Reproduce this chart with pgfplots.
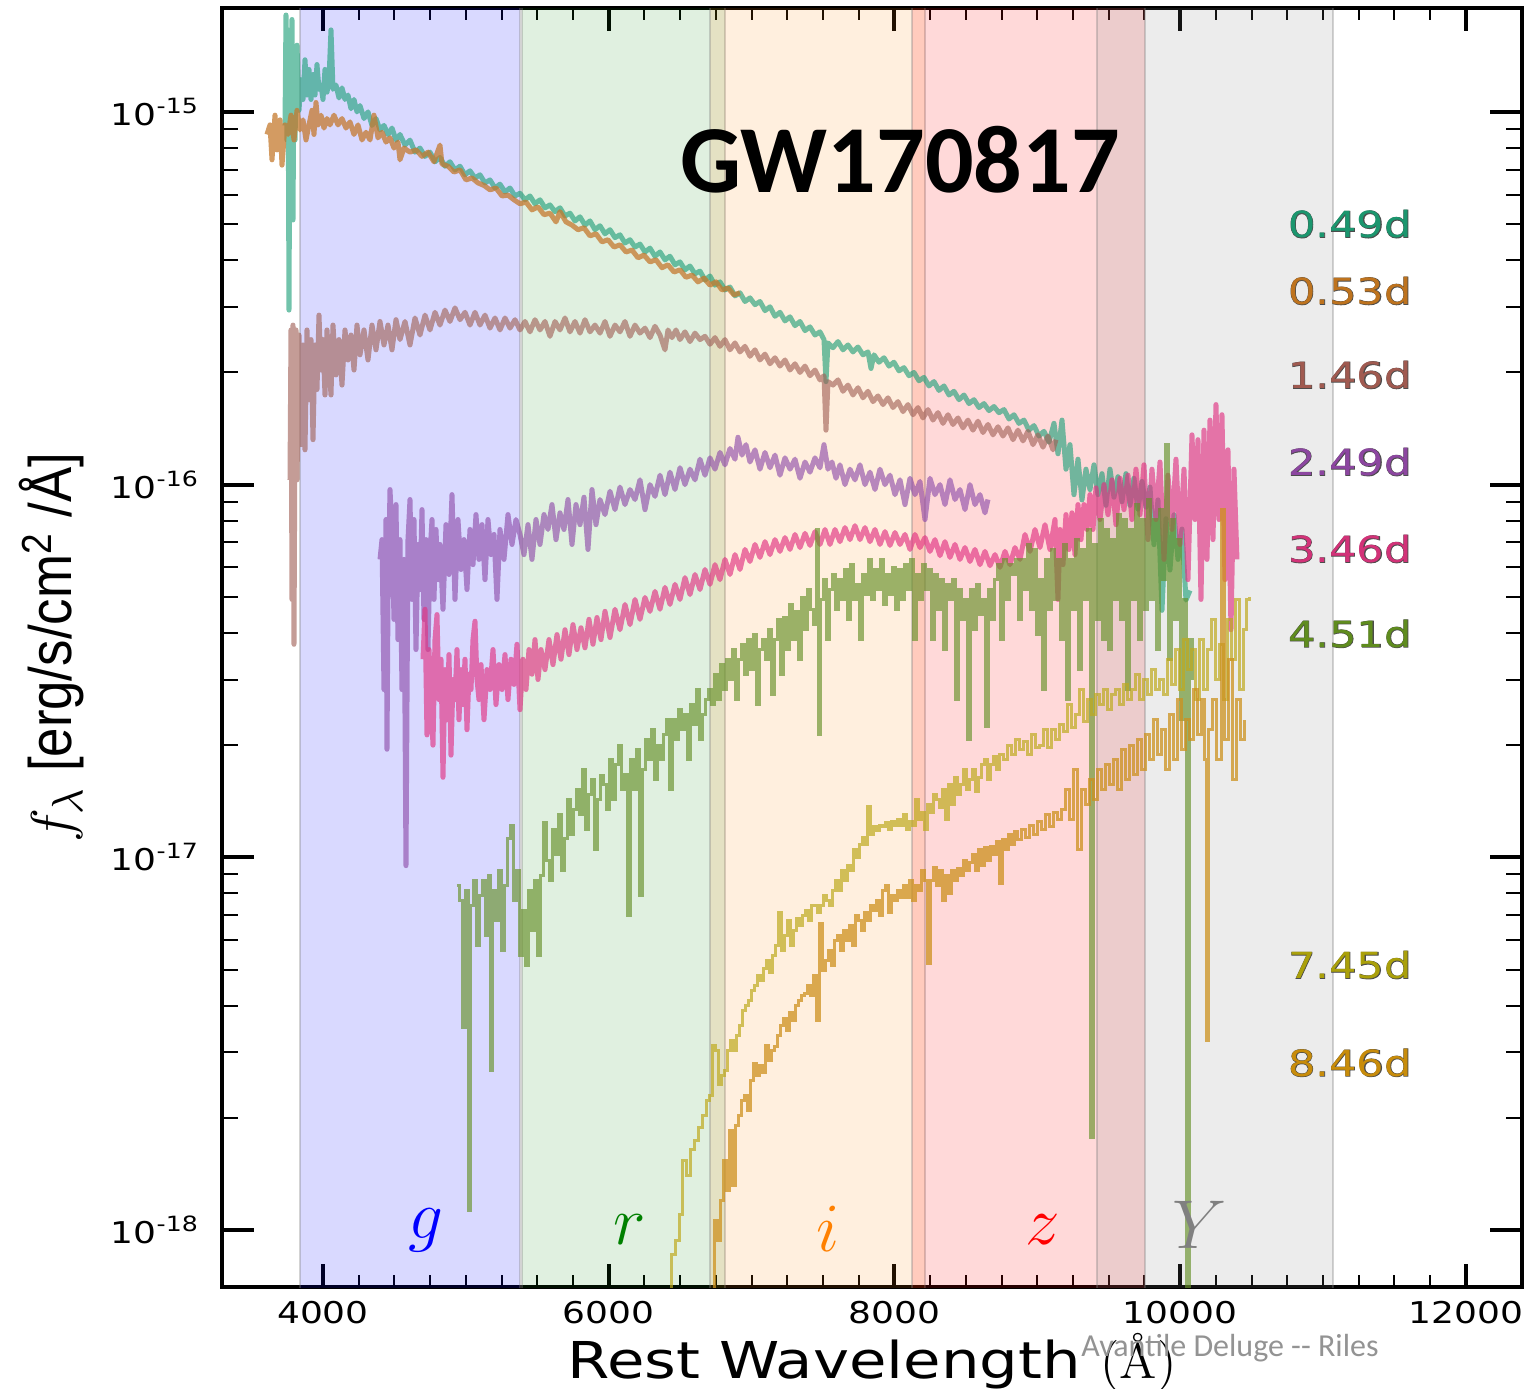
\documentclass[border=0pt]{standalone}
\usepackage{pgfplots}
\pgfplotsset{compat=1.18}
\usepackage{fontspec}
\newfontfamily\widefont[FakeStretch=1.2]{DejaVu Sans}
\newfontfamily\labfontbold[FakeStretch=1.2,FakeBold=2.5]{DejaVu Sans}
\newfontfamily\titlefont{Carlito}
\newfontfamily\ylabfont[FakeStretch=0.88]{Liberation Sans}

% spectra colours
\definecolor{cA}{RGB}{27,158,119}
\definecolor{cB}{RGB}{196,121,46}
\definecolor{cC}{RGB}{160,95,85}
\definecolor{cD}{RGB}{140,72,168}
\definecolor{cE}{RGB}{225,50,130}
\definecolor{cF}{RGB}{102,145,40}
\definecolor{cG}{RGB}{190,170,30}
\definecolor{cH}{RGB}{205,145,30}
% label colours
\definecolor{lA}{RGB}{27,150,110}
\definecolor{lB}{RGB}{190,115,30}
\definecolor{lC}{RGB}{160,90,80}
\definecolor{lD}{RGB}{140,70,160}
\definecolor{lE}{RGB}{210,50,120}
\definecolor{lF}{RGB}{95,140,30}
\definecolor{lG}{RGB}{170,160,10}
\definecolor{lH}{RGB}{200,140,10}

\begin{document}
\begin{tikzpicture}
\path[use as bounding box] (-55.5pt,-25.5pt) rectangle (327pt,321.75pt);
\begin{axis}[
    at={(0,0)}, anchor=south west,
    scale only axis, width=325pt, height=319.75pt,
    xmin=3293, xmax=12393,
    ymode=log, ymin=7.03e-19, ymax=1.90e-15,
    xtick={4000,6000,8000,10000,12000},
    xticklabels={4000,6000,8000,10000,12000},
    scaled x ticks=false,
    minor x tick num=7,
    ytick={1e-18,1e-17,1e-16,1e-15},
    yticklabels={10\textsuperscript{-18},10\textsuperscript{-17},10\textsuperscript{-16},10\textsuperscript{-15}},
    tick align=inside,
    major tick length=8pt, minor tick length=4pt,
    xtick style={/pgfplots/major tick length=5.8pt,/pgfplots/minor tick length=3pt},
    every major tick/.style={line width=1pt, black},
    every minor tick/.style={line width=0.5pt, black},
    axis line style={line width=0.8pt},
    tick label style={font=\widefont\fontsize{7.5}{8}\selectfont},
    yticklabel style={xshift=-2pt},
    xlabel={Rest Wavelength {\rmfamily(Å)}},
    xlabel style={at={(axis description cs:0.5,-0.0586)}, anchor=center,
                  font=\widefont\fontsize{12.7}{13}\selectfont},
    ylabel={$f_\lambda$ [erg/s/cm\textsuperscript{2} /Å]},
    ylabel style={at={(axis description cs:-0.1308,0.5)}, anchor=center,
                  font=\ylabfont\fontsize{15}{15}\selectfont},
]
% filter bands
\addplot[draw=gray, draw opacity=0.35, line width=0.6pt, fill=blue, fill opacity=0.15]
  coordinates {(3839,5e-19) (3839,3e-15) (5379,3e-15) (5379,5e-19)} -- cycle;
\addplot[draw=gray, draw opacity=0.35, line width=0.6pt, fill={rgb,255:red,0;green,128;blue,0}, fill opacity=0.12]
  coordinates {(5393,5e-19) (5393,3e-15) (6814,3e-15) (6814,5e-19)} -- cycle;
\addplot[draw=gray, draw opacity=0.35, line width=0.6pt, fill={rgb,255:red,255;green,128;blue,0}, fill opacity=0.13]
  coordinates {(6709,5e-19) (6709,3e-15) (8214,3e-15) (8214,5e-19)} -- cycle;
\addplot[draw=gray, draw opacity=0.35, line width=0.6pt, fill=red, fill opacity=0.15]
  coordinates {(8123,5e-19) (8123,3e-15) (9754,3e-15) (9754,5e-19)} -- cycle;
\addplot[draw=gray, draw opacity=0.35, line width=0.6pt, fill=gray, fill opacity=0.15]
  coordinates {(9418,5e-19) (9418,3e-15) (11070,3e-15) (11070,5e-19)} -- cycle;

% 0.49d
\addplot[cA, opacity=0.62, line width=1.25pt, line join=round] table {
3734 9.2e-16
3741 1.82e-15
3748 8.4e-16
3755 1.66e-15
3762 2.94e-16
3769 1.30e-15
3776 1.01e-15
3783 1.77e-15
3790 5.13e-16
3797 1.38e-15
3804 8.4e-16
3818 1.51e-15
3832 1.01e-15
3846 1.22e-15
3860 1.08e-15
3874 1.38e-15
3888 1.11e-15
3902 1.30e-15
3916 1.08e-15
3930 1.26e-15
3944 1.11e-15
3958 1.34e-15
3972 1.15e-15
3986 1.18e-15
4000 1.08e-15
4014 1.30e-15
4028 1.13e-15
4042 1.22e-15
4056 1.66e-15
4070 1.15e-15
4091 1.18e-15
4112 1.09e-15
4133 1.16e-15
4154 1.08e-15
4175 1.11e-15
4196 1.02e-15
4217 1.08e-15
4238 1.00e-15
4259 1.04e-15
4287 9.6e-16
4315 1.00e-15
4343 9.2e-16
4371 9.6e-16
4399 8.95e-16
4427 9.2e-16
4455 8.7e-16
4483 9.05e-16
4511 8.4e-16
4539 8.7e-16
4574 8.15e-16
4609 8.4e-16
4644 7.8e-16
4679 8.0e-16
4714 7.6e-16
4749 7.8e-16
4784 7.35e-16
4819 7.55e-16
4854 7.15e-16
4889 7.35e-16
4924 6.99e-16
4959 7.15e-16
4994 6.78e-16
5029 6.95e-16
5064 6.65e-16
5099 6.78e-16
5134 6.45e-16
5169 6.57e-16
5204 6.25e-16
5239 6.4e-16
5274 6.1e-16
5309 6.25e-16
5344 5.95e-16
5379 6.05e-16
5414 5.81e-16
5449 5.95e-16
5484 5.67e-16
5519 5.81e-16
5554 5.53e-16
5589 5.63e-16
5624 5.4e-16
5659 5.53e-16
5694 5.26e-16
5729 5.35e-16
5764 5.1e-16
5799 5.23e-16
5834 4.97e-16
5869 5.1e-16
5904 4.83e-16
5939 4.95e-16
5974 4.71e-16
6009 4.83e-16
6044 4.6e-16
6079 4.68e-16
6114 4.45e-16
6149 4.54e-16
6184 4.34e-16
6219 4.42e-16
6254 4.21e-16
6289 4.31e-16
6324 4.1e-16
6359 4.21e-16
6394 4.01e-16
6429 4.1e-16
6464 3.89e-16
6499 3.96e-16
6534 3.77e-16
6569 3.86e-16
6604 3.68e-16
6639 3.74e-16
6674 3.54e-16
6709 3.63e-16
6744 3.43e-16
6779 3.5e-16
6814 3.33e-16
6849 3.39e-16
6884 3.21e-16
6919 3.27e-16
6954 3.1e-16
6989 3.17e-16
7024 3.04e-16
7059 3.1e-16
7094 2.93e-16
7129 3.0e-16
7164 2.83e-16
7199 2.9e-16
7234 2.75e-16
7269 2.82e-16
7304 2.67e-16
7339 2.74e-16
7374 2.59e-16
7409 2.65e-16
7444 2.52e-16
7479 2.57e-16
7507 2.45e-16
7521 1.89e-16
7535 2.4e-16
7570 2.33e-16
7605 2.42e-16
7640 2.3e-16
7675 2.37e-16
7710 2.27e-16
7745 2.34e-16
7780 2.23e-16
7815 2.27e-16
7836 2.05e-16
7857 2.23e-16
7892 2.13e-16
7927 2.19e-16
7962 2.08e-16
7997 2.13e-16
8032 2.02e-16
8067 2.06e-16
8102 1.96e-16
8137 2.0e-16
8172 1.9e-16
8207 1.94e-16
8242 1.84e-16
8277 1.89e-16
8312 1.79e-16
8347 1.84e-16
8382 1.74e-16
8417 1.78e-16
8452 1.69e-16
8487 1.74e-16
8522 1.65e-16
8557 1.69e-16
8592 1.61e-16
8627 1.65e-16
8662 1.58e-16
8697 1.62e-16
8732 1.56e-16
8767 1.59e-16
8802 1.50e-16
8837 1.54e-16
8872 1.46e-16
8907 1.49e-16
8942 1.40e-16
8977 1.44e-16
9012 1.35e-16
9047 1.39e-16
9082 1.30e-16
9117 1.46e-16
9145 1.21e-16
9173 1.49e-16
9201 1.10e-16
9229 1.28e-16
9257 9.4e-17
9285 1.17e-16
9313 9.1e-17
9341 1.10e-16
9369 9.7e-17
9397 1.13e-16
9425 9.4e-17
9453 1.07e-16
9481 8.8e-17
9509 1.10e-16
9537 9.25e-17
9565 1.05e-16
9593 9.0e-17
9621 1.07e-16
9649 8.8e-17
9677 1.04e-16
9705 8.6e-17
9733 1.02e-16
9761 8.7e-17
9789 9.85e-17
9817 6.9e-17
9845 9.1e-17
9873 4.6e-17
9901 8.1e-17
9929 5.9e-17
9957 8.3e-17
9985 6.3e-17
10013 7.6e-17
10041 4.9e-17
10069 5.2e-17
};

% 0.53d
\addplot[cB, opacity=0.75, line width=1.25pt, line join=round] table {
3608 8.7e-16
3629 9.23e-16
3643 7.44e-16
3664 9.8e-16
3678 7.91e-16
3699 9.52e-16
3713 7.2e-16
3734 9.23e-16
3755 8.7e-16
3776 9.8e-16
3797 8.41e-16
3818 1.01e-15
3839 8.95e-16
3860 9.52e-16
3881 8.41e-16
3902 9.23e-16
3923 1.01e-15
3937 8.7e-16
3951 1.06e-15
3965 9.23e-16
3986 9.8e-16
4007 9.05e-16
4028 9.6e-16
4049 9.23e-16
4077 9.8e-16
4105 9.23e-16
4133 9.6e-16
4161 9.05e-16
4189 9.4e-16
4217 8.7e-16
4245 9.23e-16
4273 8.41e-16
4301 8.82e-16
4329 8.41e-16
4357 9.8e-16
4385 8.52e-16
4413 8.82e-16
4441 8.3e-16
4469 8.52e-16
4497 8.0e-16
4525 8.3e-16
4539 7.44e-16
4567 8.0e-16
4609 7.8e-16
4651 7.91e-16
4693 7.6e-16
4735 7.8e-16
4777 7.35e-16
4819 8.15e-16
4833 7.25e-16
4875 7.15e-16
4917 6.9e-16
4959 6.99e-16
5001 6.57e-16
5043 6.65e-16
5085 6.45e-16
5127 6.35e-16
5169 6.18e-16
5211 6.25e-16
5253 5.95e-16
5295 5.98e-16
5337 5.81e-16
5379 5.67e-16
5421 5.73e-16
5463 5.46e-16
5505 5.56e-16
5547 5.3e-16
5589 5.35e-16
5631 5.07e-16
5659 5.4e-16
5701 5.07e-16
5743 4.97e-16
5785 4.83e-16
5827 4.89e-16
5869 4.65e-16
5911 4.71e-16
5953 4.48e-16
5995 4.54e-16
6037 4.34e-16
6079 4.4e-16
6121 4.21e-16
6163 4.26e-16
6205 4.06e-16
6247 4.13e-16
6289 3.96e-16
6331 4.01e-16
6373 3.82e-16
6415 3.89e-16
6457 3.72e-16
6499 3.77e-16
6541 3.6e-16
6583 3.65e-16
6625 3.5e-16
6667 3.58e-16
6709 3.43e-16
6751 3.5e-16
6793 3.33e-16
6835 3.37e-16
6877 3.23e-16
6919 3.27e-16
};

% 1.46d
\addplot[cC, opacity=0.62, line width=1.25pt, line join=round] table {
3769 1.03e-16
3776 2.60e-16
3783 4.92e-17
3790 2.68e-16
3797 3.73e-17
3804 1.49e-16
3811 2.60e-16
3818 1.03e-16
3832 2.52e-16
3846 1.28e-16
3860 2.37e-16
3874 1.24e-16
3888 2.60e-16
3902 1.69e-16
3916 2.45e-16
3930 1.32e-16
3944 2.37e-16
3958 1.80e-16
3972 2.85e-16
3986 2.03e-16
4000 2.45e-16
4014 1.74e-16
4028 2.60e-16
4042 2.10e-16
4056 1.74e-16
4070 2.68e-16
4091 1.97e-16
4112 2.45e-16
4133 1.85e-16
4154 2.60e-16
4175 2.16e-16
4196 2.52e-16
4217 2.03e-16
4238 2.68e-16
4259 2.23e-16
4287 2.60e-16
4315 2.16e-16
4343 2.68e-16
4371 2.30e-16
4399 2.74e-16
4427 2.37e-16
4455 2.68e-16
4483 2.30e-16
4511 2.77e-16
4539 2.45e-16
4574 2.74e-16
4609 2.37e-16
4644 2.80e-16
4679 2.52e-16
4714 2.85e-16
4749 2.60e-16
4784 2.90e-16
4819 2.68e-16
4854 2.94e-16
4889 2.74e-16
4924 2.98e-16
4959 2.77e-16
4994 2.90e-16
5029 2.68e-16
5064 2.90e-16
5099 2.68e-16
5134 2.85e-16
5169 2.63e-16
5204 2.80e-16
5239 2.60e-16
5274 2.80e-16
5309 2.63e-16
5344 2.77e-16
5379 2.60e-16
5414 2.74e-16
5449 2.57e-16
5484 2.77e-16
5519 2.60e-16
5554 2.74e-16
5589 2.50e-16
5624 2.74e-16
5659 2.60e-16
5694 2.80e-16
5729 2.57e-16
5764 2.74e-16
5799 2.55e-16
5834 2.77e-16
5869 2.57e-16
5904 2.68e-16
5939 2.55e-16
5974 2.74e-16
6009 2.50e-16
6044 2.68e-16
6079 2.57e-16
6114 2.74e-16
6149 2.50e-16
6184 2.68e-16
6219 2.55e-16
6254 2.63e-16
6289 2.48e-16
6324 2.66e-16
6359 2.52e-16
6394 2.30e-16
6415 2.60e-16
6443 2.48e-16
6471 2.60e-16
6499 2.45e-16
6534 2.57e-16
6569 2.42e-16
6604 2.55e-16
6639 2.45e-16
6674 2.50e-16
6709 2.38e-16
6744 2.48e-16
6779 2.35e-16
6814 2.45e-16
6849 2.30e-16
6884 2.40e-16
6919 2.27e-16
6954 2.35e-16
6989 2.21e-16
7024 2.30e-16
7059 2.16e-16
7094 2.24e-16
7129 2.11e-16
7164 2.19e-16
7199 2.08e-16
7234 2.16e-16
7269 2.03e-16
7304 2.11e-16
7339 2.00e-16
7374 2.08e-16
7409 1.96e-16
7444 2.03e-16
7479 1.91e-16
7507 1.96e-16
7521 1.40e-16
7535 1.89e-16
7570 1.85e-16
7605 1.91e-16
7640 1.78e-16
7675 1.85e-16
7710 1.74e-16
7745 1.82e-16
7780 1.71e-16
7815 1.78e-16
7850 1.67e-16
7885 1.73e-16
7920 1.64e-16
7955 1.71e-16
7990 1.61e-16
8025 1.67e-16
8060 1.57e-16
8095 1.64e-16
8130 1.54e-16
8165 1.61e-16
8200 1.51e-16
8235 1.59e-16
8270 1.49e-16
8305 1.56e-16
8340 1.46e-16
8375 1.54e-16
8410 1.45e-16
8445 1.51e-16
8480 1.42e-16
8515 1.49e-16
8550 1.40e-16
8585 1.48e-16
8620 1.38e-16
8655 1.45e-16
8690 1.36e-16
8725 1.43e-16
8760 1.35e-16
8795 1.42e-16
8830 1.32e-16
8865 1.40e-16
8900 1.31e-16
8935 1.39e-16
8970 1.28e-16
9005 1.36e-16
9040 1.26e-16
9075 1.35e-16
9110 1.24e-16
9131 1.32e-16
};

% 2.49d
\addplot[cD, opacity=0.62, line width=1.25pt, line join=round] table {
4399 6.30e-17
4413 7.12e-17
4427 2.82e-17
4441 8.06e-17
4448 1.95e-17
4455 4.92e-17
4469 9.7e-17
4483 7.58e-17
4497 4.35e-17
4511 8.84e-17
4525 3.84e-17
4539 7.12e-17
4553 2.82e-17
4567 6.30e-17
4581 9.5e-18
4595 7.12e-17
4609 9.12e-17
4623 4.92e-17
4637 8.06e-17
4651 3.61e-17
4665 6.91e-17
4679 5.23e-17
4693 8.57e-17
4707 4.35e-17
4721 7.12e-17
4735 3.61e-17
4749 6.49e-17
4763 8.06e-17
4777 4.92e-17
4791 7.58e-17
4805 5.56e-17
4819 6.91e-17
4840 4.63e-17
4861 7.81e-17
4882 5.74e-17
4903 9.4e-17
4924 4.92e-17
4945 8.06e-17
4966 5.92e-17
4987 7.12e-17
5008 5.23e-17
5029 7.58e-17
5050 6.10e-17
5071 8.31e-17
5092 6.30e-17
5113 7.81e-17
5134 5.56e-17
5155 8.06e-17
5176 6.49e-17
5197 7.35e-17
5218 4.92e-17
5239 7.58e-17
5267 6.30e-17
5295 8.31e-17
5323 6.91e-17
5351 8.06e-17
5379 7.35e-17
5407 6.49e-17
5435 7.81e-17
5463 6.30e-17
5491 8.06e-17
5519 6.91e-17
5547 8.31e-17
5575 7.58e-17
5603 8.84e-17
5631 7.12e-17
5659 8.4e-17
5687 7.58e-17
5715 9.12e-17
5743 6.91e-17
5771 8.84e-17
5799 7.81e-17
5827 9.25e-17
5855 6.70e-17
5883 9.7e-17
5911 7.81e-17
5939 9.12e-17
5974 8.31e-17
6009 9.6e-17
6044 8.57e-17
6079 9.85e-17
6114 8.84e-17
6149 9.7e-17
6184 9.12e-17
6219 1.03e-16
6254 8.57e-17
6289 1.0e-16
6324 9.3e-17
6359 1.06e-16
6394 9.4e-17
6429 1.08e-16
6464 9.7e-17
6499 1.11e-16
6534 1.0e-16
6569 1.10e-16
6604 1.03e-16
6639 1.17e-16
6674 1.06e-16
6709 1.18e-16
6744 1.10e-16
6779 1.22e-16
6814 1.13e-16
6849 1.25e-16
6884 1.17e-16
6905 1.34e-16
6933 1.20e-16
6961 1.28e-16
6989 1.15e-16
7024 1.24e-16
7059 1.10e-16
7094 1.22e-16
7129 1.11e-16
7164 1.20e-16
7199 1.06e-16
7234 1.18e-16
7269 1.10e-16
7304 1.17e-16
7339 1.04e-16
7374 1.15e-16
7409 1.08e-16
7444 1.18e-16
7479 1.11e-16
7507 1.28e-16
7535 1.10e-16
7563 1.15e-16
7591 1.04e-16
7619 1.13e-16
7654 1.0e-16
7689 1.10e-16
7724 1.03e-16
7759 1.13e-16
7794 1.0e-16
7829 1.08e-16
7864 9.7e-17
7899 1.10e-16
7934 1.0e-16
7969 1.06e-16
8004 9.4e-17
8039 1.03e-16
8074 8.84e-17
8109 1.04e-16
8144 9.4e-17
8179 1.02e-16
8214 8.06e-17
8249 1.04e-16
8284 9.4e-17
8319 1.0e-16
8354 8.84e-17
8389 1.03e-16
8424 9.12e-17
8459 9.7e-17
8494 8.57e-17
8529 1.0e-16
8564 8.84e-17
8599 9.4e-17
8634 8.4e-17
8655 9.12e-17
};

% 3.46d
\addplot[cE, opacity=0.65, line width=1.25pt, line join=round] table {
4700 3.40e-17
4714 4.63e-17
4728 2.13e-17
4742 3.61e-17
4756 2.65e-17
4770 2.0e-17
4784 3.84e-17
4798 4.48e-17
4812 2.65e-17
4826 3.40e-17
4840 1.64e-17
4854 3.19e-17
4868 2.34e-17
4882 3.50e-17
4896 1.88e-17
4910 3.0e-17
4924 2.65e-17
4938 3.61e-17
4952 2.34e-17
4966 3.19e-17
4980 2.57e-17
4994 3.40e-17
5008 2.20e-17
5022 3.10e-17
5036 2.82e-17
5050 3.84e-17
5064 4.3e-17
5078 3.0e-17
5092 2.65e-17
5106 3.29e-17
5127 2.34e-17
5148 3.19e-17
5169 2.82e-17
5190 3.61e-17
5211 2.57e-17
5232 3.29e-17
5253 2.82e-17
5274 3.50e-17
5295 2.65e-17
5316 3.40e-17
5337 2.91e-17
5358 3.73e-17
5379 2.49e-17
5400 3.40e-17
5421 2.82e-17
5442 3.61e-17
5463 3.10e-17
5484 3.84e-17
5505 3.0e-17
5526 3.61e-17
5554 3.19e-17
5582 3.84e-17
5610 3.29e-17
5638 3.96e-17
5666 3.40e-17
5694 4.08e-17
5722 3.50e-17
5750 4.21e-17
5778 3.61e-17
5806 4.13e-17
5834 3.65e-17
5862 4.35e-17
5890 3.73e-17
5918 4.4e-17
5946 3.84e-17
5974 4.57e-17
6009 3.89e-17
6044 4.63e-17
6079 4.08e-17
6114 4.77e-17
6149 4.21e-17
6184 4.92e-17
6219 4.35e-17
6254 4.98e-17
6289 4.57e-17
6324 5.17e-17
6359 4.63e-17
6394 5.3e-17
6429 4.77e-17
6464 5.4e-17
6499 4.92e-17
6534 5.63e-17
6569 5.07e-17
6604 5.74e-17
6639 5.23e-17
6674 5.92e-17
6709 5.4e-17
6744 6.10e-17
6779 5.56e-17
6814 6.30e-17
6849 5.74e-17
6884 6.49e-17
6919 5.92e-17
6954 6.70e-17
6989 6.22e-17
7024 6.91e-17
7059 6.38e-17
7094 7.03e-17
7129 6.49e-17
7164 7.12e-17
7199 6.62e-17
7234 7.21e-17
7269 6.70e-17
7304 7.35e-17
7339 6.78e-17
7374 7.4e-17
7409 6.87e-17
7444 7.48e-17
7479 6.91e-17
7514 7.58e-17
7549 6.91e-17
7584 7.58e-17
7619 7.03e-17
7654 7.67e-17
7689 7.12e-17
7724 7.76e-17
7759 7.12e-17
7794 7.67e-17
7829 7.03e-17
7864 7.58e-17
7899 6.91e-17
7934 7.48e-17
7969 6.87e-17
8004 7.44e-17
8039 6.91e-17
8074 7.35e-17
8109 6.70e-17
8144 7.35e-17
8179 6.78e-17
8214 7.21e-17
8249 6.62e-17
8284 7.12e-17
8319 6.45e-17
8354 7.03e-17
8389 6.38e-17
8424 6.91e-17
8459 6.30e-17
8494 6.78e-17
8529 6.22e-17
8564 6.70e-17
8599 6.10e-17
8634 6.62e-17
8669 6.06e-17
8704 6.49e-17
8739 6.0e-17
8774 6.62e-17
8809 6.10e-17
8844 6.78e-17
8879 6.30e-17
8914 7.35e-17
8949 6.62e-17
8984 7.58e-17
9019 6.78e-17
9054 7.81e-17
9089 6.70e-17
9124 8.06e-17
9145 4.92e-17
9159 7.58e-17
9180 6.10e-17
9201 8.31e-17
9222 6.70e-17
9243 8.4e-17
9264 6.49e-17
9285 8.84e-17
9306 7.12e-17
9327 8.84e-17
9348 7.58e-17
9369 9.4e-17
9390 7.58e-17
9411 9.8e-17
9439 8.06e-17
9467 1.0e-16
9495 8.31e-17
9523 1.03e-16
9551 7.81e-17
9579 1.04e-16
9607 8.57e-17
9635 1.06e-16
9663 8.06e-17
9691 1.10e-16
9719 8.31e-17
9747 1.13e-16
9775 7.12e-17
9803 1.10e-16
9831 8.06e-17
9859 1.15e-16
9887 6.30e-17
9915 1.06e-16
9943 7.58e-17
9971 1.17e-16
9999 6.91e-17
10027 1.10e-16
10055 5.56e-17
10083 1.36e-16
10104 8.06e-17
10125 1.32e-16
10146 4.92e-17
10167 1.40e-16
10188 6.30e-17
10209 1.49e-16
10230 7.12e-17
10251 1.64e-16
10272 8.06e-17
10293 1.54e-16
10314 5.56e-17
10335 1.24e-16
10356 4.08e-17
10377 1.10e-16
10398 6.30e-17
};

% 4.51d
\addplot[cF, opacity=0.65, line width=0.75pt, const plot] table {
4938 8.41e-18
4959 7.67e-18
4980 3.5e-18
5001 8.16e-18
5022 1.13e-18
5036 7.44e-18
5057 8.68e-18
5078 5.81e-18
5099 7.91e-18
5120 8.68e-18
5141 6.18e-18
5162 8.95e-18
5176 2.68e-18
5190 8.16e-18
5211 6.78e-18
5232 9.23e-18
5253 5.63e-18
5274 8.41e-18
5295 1.12e-17
5316 1.22e-17
5337 7.67e-18
5358 9.23e-18
5379 5.46e-18
5400 7.21e-18
5421 5.13e-18
5442 8.16e-18
5463 6.37e-18
5484 8.68e-18
5505 5.46e-18
5526 8.95e-18
5547 1.24e-17
5568 9.82e-18
5589 8.68e-18
5610 1.19e-17
5631 1.02e-17
5652 1.30e-17
5673 9.23e-18
5694 1.12e-17
5715 1.43e-17
5736 1.15e-17
5757 1.34e-17
5778 1.52e-17
5799 1.30e-17
5820 1.72e-17
5841 1.19e-17
5862 1.47e-17
5883 1.62e-17
5904 1.05e-17
5925 1.43e-17
5946 1.66e-17
5967 1.57e-17
5988 1.34e-17
6009 1.83e-17
6030 1.43e-17
6051 1.78e-17
6072 2.0e-17
6093 1.52e-17
6114 1.67e-17
6135 6.99e-18
6156 1.83e-17
6177 1.52e-17
6198 1.95e-17
6219 7.91e-18
6240 1.72e-17
6261 2.07e-17
6282 1.83e-17
6303 2.20e-17
6324 1.62e-17
6345 2.0e-17
6366 1.83e-17
6387 2.13e-17
6408 2.34e-17
6429 1.52e-17
6450 2.34e-17
6471 2.07e-17
6492 2.49e-17
6513 2.20e-17
6534 2.42e-17
6555 1.83e-17
6576 2.57e-17
6597 2.27e-17
6618 2.82e-17
6639 2.07e-17
6660 2.42e-17
6681 2.65e-17
6702 2.82e-17
6723 2.57e-17
6744 3.10e-17
6765 2.65e-17
6786 3.29e-17
6807 2.82e-17
6828 3.40e-17
6849 3.0e-17
6870 3.61e-17
6891 2.65e-17
6912 3.40e-17
6933 3.73e-17
6954 3.10e-17
6975 3.84e-17
6996 3.19e-17
7017 3.96e-17
7038 2.57e-17
7059 3.61e-17
7080 3.84e-17
7101 3.40e-17
7122 4.08e-17
7143 2.74e-17
7164 3.84e-17
7185 4.35e-17
7206 3.10e-17
7227 4.4e-17
7248 3.61e-17
7269 4.77e-17
7290 3.84e-17
7311 4.57e-17
7332 3.40e-17
7353 4.98e-17
7374 4.08e-17
7395 5.23e-17
7416 4.63e-17
7437 4.21e-17
7458 7.58e-17
7472 2.13e-17
7486 4.92e-17
7507 5.56e-17
7528 3.84e-17
7549 5.23e-17
7570 5.74e-17
7591 4.63e-17
7612 5.56e-17
7633 4.92e-17
7654 5.92e-17
7675 4.35e-17
7696 6.10e-17
7717 4.92e-17
7738 5.4e-17
7759 3.84e-17
7780 5.74e-17
7801 5.07e-17
7822 6.30e-17
7843 4.92e-17
7864 5.92e-17
7885 5.23e-17
7906 6.30e-17
7927 4.77e-17
7948 5.74e-17
7969 5.07e-17
7990 6.0e-17
8011 4.63e-17
8032 5.92e-17
8053 4.92e-17
8074 6.10e-17
8095 5.23e-17
8116 6.30e-17
8137 3.84e-17
8158 5.74e-17
8179 4.92e-17
8200 6.10e-17
8221 5.23e-17
8242 5.92e-17
8263 3.84e-17
8284 5.74e-17
8305 4.63e-17
8326 5.56e-17
8347 3.61e-17
8368 5.4e-17
8389 4.92e-17
8410 5.56e-17
8431 2.65e-17
8452 5.23e-17
8473 4.35e-17
8494 4.92e-17
8515 2.07e-17
8536 5.23e-17
8557 4.08e-17
8578 5.4e-17
8599 4.48e-17
8620 4.92e-17
8641 2.24e-17
8662 5.23e-17
8683 4.35e-17
8704 5.56e-17
8725 6.10e-17
8746 3.84e-17
8767 6.30e-17
8788 4.92e-17
8809 6.10e-17
8830 5.74e-17
8851 6.30e-17
8872 4.35e-17
8893 6.30e-17
8914 5.23e-17
8935 6.91e-17
8956 4.63e-17
8977 6.70e-17
8998 3.96e-17
9019 5.56e-17
9040 2.82e-17
9061 6.30e-17
9082 4.63e-17
9103 6.70e-17
9124 4.92e-17
9145 6.30e-17
9166 3.84e-17
9187 6.91e-17
9208 2.65e-17
9229 6.30e-17
9250 4.63e-17
9271 7.12e-17
9292 3.19e-17
9313 6.70e-17
9334 4.92e-17
9355 7.58e-17
9376 1.77e-18
9397 6.91e-17
9418 4.35e-17
9439 8.06e-17
9460 3.84e-17
9481 7.58e-17
9502 3.61e-17
9523 7.12e-17
9544 4.92e-17
9565 8.31e-17
9586 4.35e-17
9607 8.06e-17
9628 2.82e-17
9649 7.58e-17
9670 4.92e-17
9691 8.84e-17
9712 3.84e-17
9733 8.06e-17
9754 4.63e-17
9775 9.12e-17
9796 4.92e-17
9817 8.06e-17
9838 3.61e-17
9859 8.57e-17
9880 5.56e-17
9901 1.28e-16
9922 3.40e-17
9943 8.06e-17
9964 4.35e-17
9985 7.12e-17
10006 2.34e-17
10027 4.92e-17
10048 6.5e-19
10069 3.84e-17
10090 3.0e-17
};

% 7.45d
\addplot[cG, opacity=0.7, line width=0.75pt, const plot] table {
6415 6.5e-19
6443 8.6e-19
6471 9.4e-19
6499 1.10e-18
6520 1.54e-18
6548 1.40e-18
6576 1.64e-18
6604 1.74e-18
6632 1.88e-18
6660 2.03e-18
6688 2.23e-18
6709 2.30e-18
6730 3.13e-18
6751 3.04e-18
6772 2.45e-18
6793 2.60e-18
6814 2.68e-18
6835 3.04e-18
6856 3.23e-18
6877 3.04e-18
6898 3.33e-18
6919 3.54e-18
6940 3.89e-18
6961 4.01e-18
6982 4.13e-18
7003 4.40e-18
7024 4.54e-18
7045 4.83e-18
7066 4.68e-18
7087 5.04e-18
7108 5.30e-18
7129 4.92e-18
7150 5.46e-18
7171 5.81e-18
7192 7.1e-18
7213 5.63e-18
7234 6.18e-18
7255 6.78e-18
7276 5.81e-18
7297 6.37e-18
7318 6.87e-18
7339 6.57e-18
7360 6.99e-18
7381 7.21e-18
7402 6.78e-18
7423 7.44e-18
7444 7.44e-18
7465 7.1e-18
7486 7.44e-18
7507 7.91e-18
7528 7.67e-18
7549 7.44e-18
7570 8.16e-18
7591 8.68e-18
7612 8.16e-18
7633 9.23e-18
7654 8.68e-18
7675 9.52e-18
7696 9.23e-18
7717 1.05e-17
7738 1.0e-17
7759 1.08e-17
7780 1.13e-17
7801 1.08e-17
7815 1.37e-17
7836 1.15e-17
7857 1.21e-17
7878 1.18e-17
7899 1.22e-17
7920 1.21e-17
7941 1.24e-17
7962 1.185e-17
7983 1.25e-17
8004 1.22e-17
8025 1.26e-17
8046 1.22e-17
8067 1.30e-17
8088 1.185e-17
8109 1.25e-17
8130 1.22e-17
8151 1.43e-17
8172 1.26e-17
8193 1.32e-17
8214 1.185e-17
8235 1.385e-17
8256 1.32e-17
8277 1.47e-17
8298 1.43e-17
8319 1.36e-17
8340 1.52e-17
8361 1.26e-17
8382 1.57e-17
8403 1.385e-17
8424 1.64e-17
8445 1.47e-17
8466 1.57e-17
8487 1.72e-17
8508 1.52e-17
8529 1.62e-17
8550 1.72e-17
8571 1.50e-17
8592 1.64e-17
8613 1.775e-17
8634 1.83e-17
8655 1.62e-17
8676 1.775e-17
8697 1.86e-17
8718 1.72e-17
8739 1.885e-17
8767 1.83e-17
8795 2.0e-17
8823 1.885e-17
8851 2.07e-17
8879 1.945e-17
8907 2.04e-17
8935 1.885e-17
8963 2.135e-17
8991 1.97e-17
9019 2.0e-17
9047 2.20e-17
9075 1.97e-17
9103 2.20e-17
9131 2.07e-17
9159 2.27e-17
9187 2.17e-17
9215 2.57e-17
9243 2.23e-17
9271 2.42e-17
9299 2.82e-17
9327 2.31e-17
9355 2.65e-17
9383 2.42e-17
9411 2.74e-17
9439 2.57e-17
9467 2.82e-17
9495 2.49e-17
9523 2.74e-17
9551 2.82e-17
9579 2.57e-17
9607 2.91e-17
9635 2.65e-17
9663 2.82e-17
9691 3.10e-17
9719 2.65e-17
9747 3.0e-17
9775 2.74e-17
9803 3.19e-17
9831 2.82e-17
9859 3.0e-17
9887 2.74e-17
9915 3.40e-17
9943 2.91e-17
9971 3.61e-17
9999 2.82e-17
10027 3.84e-17
10055 3.19e-17
10083 3.61e-17
10111 2.65e-17
10139 3.84e-17
10167 2.82e-17
10195 3.61e-17
10223 4.35e-17
10251 3.0e-17
10279 3.73e-17
10307 2.65e-17
10335 4.35e-17
10363 3.40e-17
10391 4.92e-17
10419 2.82e-17
10447 4.08e-17
10468 4.92e-17
10489 5.0e-17
};

% 8.46d
\addplot[cH, opacity=0.75, line width=0.75pt, const plot] table {
6723 6.5e-19
6744 1.06e-18
6765 9.4e-19
6786 1.20e-18
6807 1.54e-18
6828 1.28e-18
6849 1.85e-18
6870 1.32e-18
6891 1.91e-18
6912 2.03e-18
6933 2.23e-18
6954 2.30e-18
6975 2.095e-18
6996 2.52e-18
7017 2.79e-18
7038 2.60e-18
7059 2.77e-18
7080 2.65e-18
7101 3.13e-18
7122 2.85e-18
7143 3.04e-18
7164 3.10e-18
7185 3.33e-18
7206 3.54e-18
7227 3.70e-18
7248 3.44e-18
7269 3.84e-18
7290 3.66e-18
7311 4.01e-18
7332 4.13e-18
7353 4.26e-18
7374 4.31e-18
7395 4.54e-18
7416 4.26e-18
7437 4.83e-18
7458 3.66e-18
7479 6.65e-18
7500 4.98e-18
7521 5.30e-18
7542 5.63e-18
7563 5.13e-18
7584 5.99e-18
7605 6.18e-18
7626 5.63e-18
7647 6.37e-18
7668 5.99e-18
7689 6.57e-18
7710 5.81e-18
7731 6.99e-18
7752 6.78e-18
7773 6.37e-18
7794 7.1e-18
7815 6.78e-18
7836 7.44e-18
7857 7.21e-18
7878 7.67e-18
7899 6.99e-18
7920 8.16e-18
7941 8.41e-18
7962 7.1e-18
7983 7.91e-18
8004 7.67e-18
8025 8.16e-18
8046 7.8e-18
8067 8.41e-18
8088 7.8e-18
8109 8.68e-18
8130 7.67e-18
8151 8.41e-18
8172 8.16e-18
8193 9.23e-18
8214 8.68e-18
8235 5.2e-18
8256 8.68e-18
8277 9.4e-18
8298 8.41e-18
8319 9.23e-18
8340 7.67e-18
8361 8.95e-18
8382 8.0e-18
8403 9.23e-18
8424 8.68e-18
8445 9.35e-18
8466 8.95e-18
8487 9.82e-18
8508 9.23e-18
8529 9.7e-18
8550 1.02e-17
8571 9.23e-18
8592 1.05e-17
8613 9.52e-18
8634 1.065e-17
8655 9.82e-18
8676 1.07e-17
8697 1.02e-17
8718 1.10e-17
8739 8.5e-18
8760 1.115e-17
8781 1.05e-17
8802 1.15e-17
8823 1.08e-17
8844 1.17e-17
8865 1.115e-17
8893 1.185e-17
8921 1.13e-17
8949 1.22e-17
8977 1.15e-17
9005 1.25e-17
9033 1.185e-17
9061 1.30e-17
9089 1.21e-17
9117 1.32e-17
9145 1.26e-17
9173 1.34e-17
9201 1.52e-17
9229 1.26e-17
9257 1.72e-17
9285 1.05e-17
9313 1.52e-17
9341 1.385e-17
9369 1.62e-17
9397 1.43e-17
9425 1.72e-17
9453 1.52e-17
9481 1.775e-17
9509 1.57e-17
9537 1.83e-17
9565 1.52e-17
9593 1.945e-17
9621 1.62e-17
9649 2.0e-17
9677 1.67e-17
9705 2.07e-17
9733 1.72e-17
9761 2.135e-17
9789 1.83e-17
9817 2.34e-17
9845 1.885e-17
9873 2.20e-17
9901 1.72e-17
9929 2.42e-17
9957 1.83e-17
9985 2.65e-17
10013 1.945e-17
10041 2.34e-17
10069 2.07e-17
10097 2.82e-17
10125 2.135e-17
10153 2.65e-17
10174 1.83e-17
10188 3.23e-18
10202 2.20e-17
10230 2.65e-17
10258 1.83e-17
10293 8.57e-17
10314 2.07e-17
10342 3.40e-17
10370 1.62e-17
10398 2.65e-17
10426 2.07e-17
10454 2.34e-17
};

% band names
\node[text=blue, font=\fontsize{17}{17}\selectfont] at (axis cs:4721,1.0e-18) {$g$};
\node[text={rgb,255:red,0;green,128;blue,0}, font=\fontsize{17}{17}\selectfont] at (axis cs:6149,1.0e-18) {$r$};
\node[text={rgb,255:red,255;green,128;blue,0}, font=\fontsize{17}{17}\selectfont] at (axis cs:7535,1.01e-18) {$i$};
\node[text=red, font=\fontsize{17}{17}\selectfont] at (axis cs:9040,1.0e-18) {$z$};
\node[text=gray, font=\fontsize{17}{17}\selectfont] at (axis cs:10139,1.03e-18) {$Y$};

% title
\node[font=\titlefont\bfseries\fontsize{24}{24}\selectfont] at (axis cs:8039,7.44e-16) {GW170817};

% epoch labels (dark outline underneath, coloured text on top)
\node[text=black!70, font=\labfontbold\fontsize{9}{9}\selectfont] at (axis cs:11189,5.0e-16) {0.49d};
\node[text=lA, font=\widefont\fontsize{9}{9}\selectfont] at (axis cs:11189,5.0e-16) {0.49d};
\node[text=black!70, font=\labfontbold\fontsize{9}{9}\selectfont] at (axis cs:11189,3.31e-16) {0.53d};
\node[text=lB, font=\widefont\fontsize{9}{9}\selectfont] at (axis cs:11189,3.31e-16) {0.53d};
\node[text=black!70, font=\labfontbold\fontsize{9}{9}\selectfont] at (axis cs:11189,1.97e-16) {1.46d};
\node[text=lC, font=\widefont\fontsize{9}{9}\selectfont] at (axis cs:11189,1.97e-16) {1.46d};
\node[text=black!70, font=\labfontbold\fontsize{9}{9}\selectfont] at (axis cs:11189,1.15e-16) {2.49d};
\node[text=lD, font=\widefont\fontsize{9}{9}\selectfont] at (axis cs:11189,1.15e-16) {2.49d};
\node[text=black!70, font=\labfontbold\fontsize{9}{9}\selectfont] at (axis cs:11189,6.72e-17) {3.46d};
\node[text=lE, font=\widefont\fontsize{9}{9}\selectfont] at (axis cs:11189,6.72e-17) {3.46d};
\node[text=black!70, font=\labfontbold\fontsize{9}{9}\selectfont] at (axis cs:11189,3.98e-17) {4.51d};
\node[text=lF, font=\widefont\fontsize{9}{9}\selectfont] at (axis cs:11189,3.98e-17) {4.51d};
\node[text=black!70, font=\labfontbold\fontsize{9}{9}\selectfont] at (axis cs:11189,5.14e-18) {7.45d};
\node[text=lG, font=\widefont\fontsize{9}{9}\selectfont] at (axis cs:11189,5.14e-18) {7.45d};
\node[text=black!70, font=\labfontbold\fontsize{9}{9}\selectfont] at (axis cs:11189,2.81e-18) {8.46d};
\node[text=lH, font=\widefont\fontsize{9}{9}\selectfont] at (axis cs:11189,2.81e-18) {8.46d};
\end{axis}
% watermark
\node[text=gray!85, font=\titlefont\fontsize{8}{9}\selectfont] at (252pt,-15.25pt) {Avantile Deluge -{}- Riles};
\end{tikzpicture}
\end{document}
